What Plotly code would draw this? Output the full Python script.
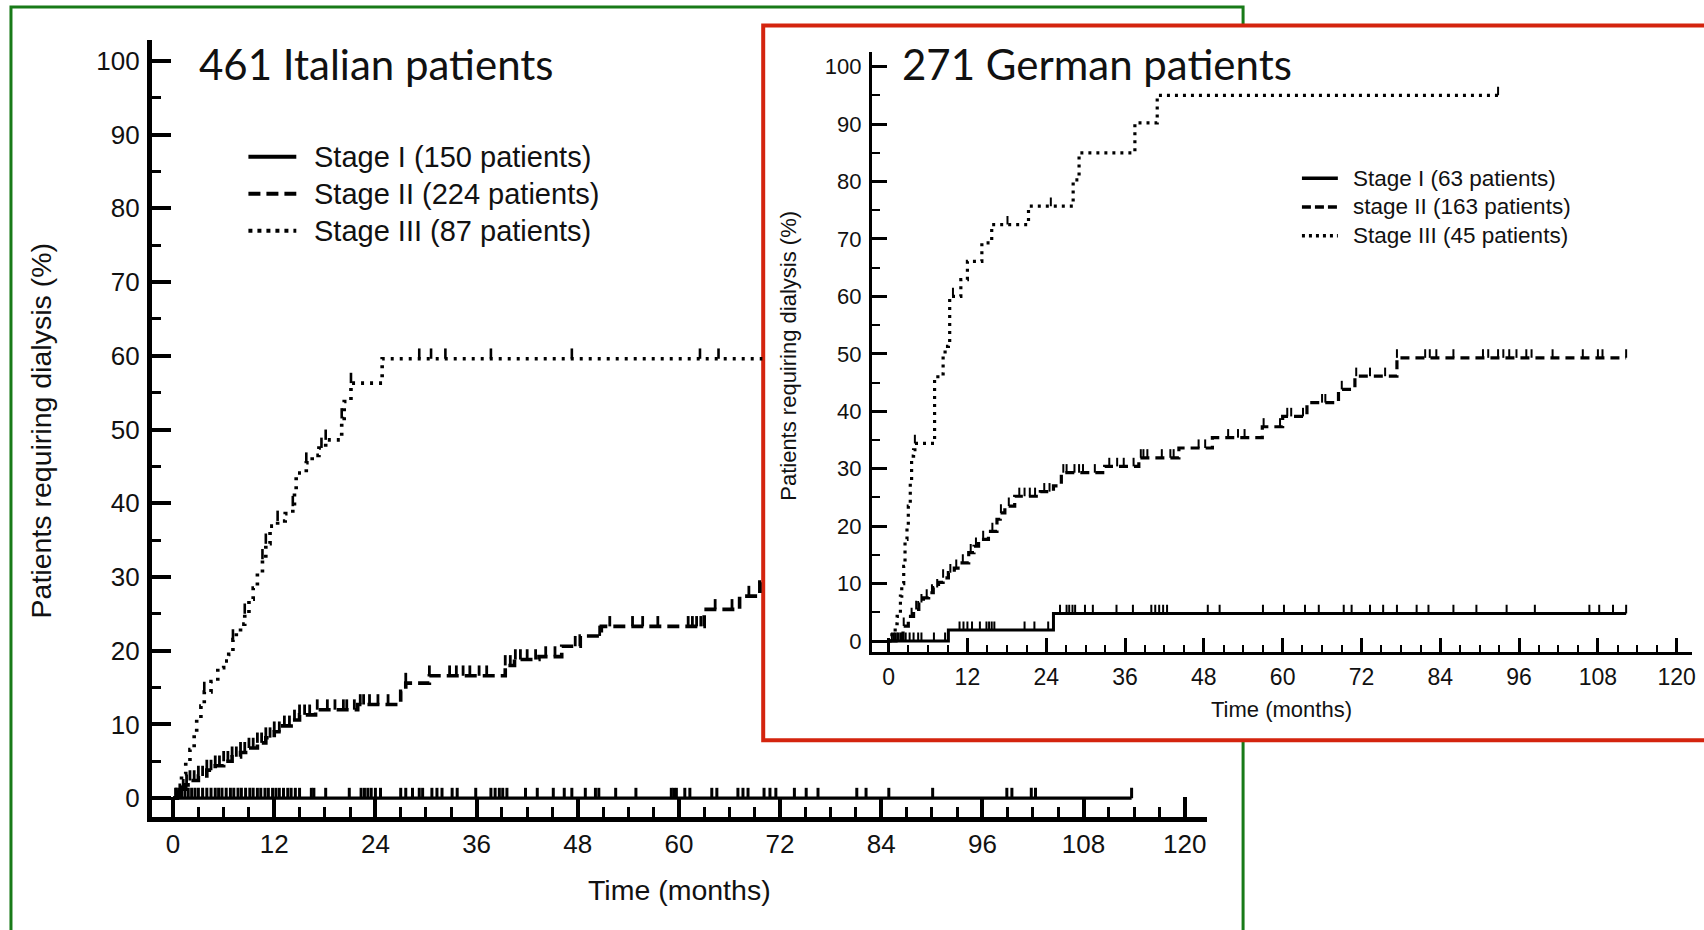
import numpy as np
import plotly.graph_objects as go

W, H = 1704, 930

MONTH_TICKS = list(range(0, 121, 12))
PCT_TICKS = list(range(0, 101, 10))

# ---------------- Italian cohort (461 patients) ----------------
it_s1_t = [0.0]
it_s1_v = [0.0]
it_s1_end = 113.7
it_s1_cens = [0.3, 0.7, 1.0, 1.4, 1.8, 2.2, 2.6, 3.0, 3.5, 4.0, 4.5, 5.0, 5.4, 5.8, 6.3, 6.8,
              7.2, 7.7, 8.1, 8.6, 9.1, 9.5, 10.0, 10.4, 10.9, 11.3, 11.8, 12.2, 12.6, 13.1,
              13.6, 14.0, 14.5, 15.0, 16.4, 16.7, 18.1, 20.9, 22.3, 22.7, 23.1, 23.5, 24.0,
              24.6, 27.0, 27.6, 28.4, 29.2, 29.6, 30.7, 31.3, 31.9, 33.1, 33.7, 35.9, 37.7,
              38.2, 38.7, 39.1, 39.6, 41.8, 43.2, 45.1, 46.4, 47.3, 48.9, 50.1, 50.5, 52.5,
              54.9, 59.1, 59.4, 59.7, 60.7, 61.3, 63.9, 64.5, 67.0, 67.6, 68.2, 70.1, 70.8,
              71.5, 73.7, 75.1, 76.5, 81.1, 82.2, 84.9, 90.1, 98.9, 99.5, 101.8, 102.3, 113.7]

it_s2_t = [0, 0.5, 1.0, 1.5, 2.0, 3.0, 4.0, 5.0, 6.0, 7.0, 8.0, 9.0, 10.0, 11.0, 12.0, 13.0,
           14.0, 15.0, 16.9, 21.9, 27.0, 27.6, 30.4, 39.4, 40.5, 43.4, 46.1, 48.3, 50.8, 63.0,
           67.2, 69.6]
it_s2_v = [0, 0.6, 1.2, 1.8, 2.4, 3.0, 3.8, 4.4, 5.0, 5.6, 6.2, 6.8, 7.5, 8.2, 9.0, 9.8,
           10.6, 11.3, 12.0, 12.7, 14.5, 15.6, 16.6, 18.0, 18.8, 19.2, 20.6, 22.0, 23.3, 25.6,
           27.4, 29.3]
it_s2_end = 69.9
it_s2_cens = [0.4, 0.8, 1.2, 1.6, 2.0, 2.5, 3.0, 3.5, 4.0, 4.5, 5.0, 5.5, 6.0, 6.5, 7.0, 7.5,
              8.0, 8.5, 9.0, 9.5, 10.0, 10.5, 11.0, 11.5, 12.0, 12.6, 13.2, 13.8, 14.4, 15.0,
              15.6, 16.2, 17.1, 18.3, 19.2, 20.2, 20.6, 21.5, 22.2, 22.6, 23.3, 24.3, 25.5,
              27.6, 30.4, 32.8, 33.6, 34.4, 35.2, 36.3, 37.2, 39.4, 40.0, 40.6, 41.2, 42.0,
              43.0, 44.2, 45.3, 47.7, 50.6, 51.8, 54.5, 55.7, 57.5, 61.1, 61.6, 62.1, 62.6,
              64.3, 66.3, 68.3]

it_s3_t = [0, 0.5, 1.0, 1.5, 2.0, 2.5, 2.8, 3.3, 3.7, 4.5, 5.3, 6.0, 6.6, 7.1, 7.5, 8.0, 8.5,
           9.0, 9.5, 10.0, 10.6, 11.0, 11.5, 12.4, 13.3, 14.2, 14.4, 14.6, 15.8, 16.5, 17.3,
           18.1, 20.0, 20.3, 21.1, 24.8]
it_s3_v = [0, 1.5, 3.3, 5.0, 6.6, 8.7, 10.7, 12.5, 14.4, 15.8, 17.7, 18.6, 19.5, 21.5, 22.5,
           23.6, 25.0, 27.0, 28.5, 30.6, 32.4, 34.5, 36.9, 37.6, 38.6, 39.6, 41.5, 44.1, 45.5,
           46.5, 47.5, 48.6, 51.5, 53.8, 56.3, 59.6]
it_s3_end = 69.9
it_s3_cens = [3.7, 7.1, 8.5, 10.6, 11.0, 12.4, 14.2, 15.8, 17.6, 18.1, 20.0, 21.1, 29.2, 30.6,
              32.3, 37.7, 47.3, 62.5, 64.7]

# ---------------- German cohort (271 patients) ----------------
de_s1_t = [0, 9.1, 25.1]
de_s1_v = [0, 1.9, 4.8]
de_s1_end = 112.3
de_s1_cens = [0.5, 1.0, 1.5, 2.0, 2.6, 3.2, 3.8, 4.5, 5.0, 6.9, 8.6, 10.8, 11.4, 12.0, 12.7,
              13.9, 14.9, 15.3, 15.7, 16.1, 20.7, 22.2, 24.3, 26.1, 27.1, 27.5, 28.0, 28.4,
              29.9, 31.1, 34.7, 37.2, 40.0, 40.6, 41.2, 41.8, 42.4, 48.6, 50.4, 57.0, 60.2,
              63.4, 65.5, 69.3, 70.5, 73.3, 75.3, 77.4, 80.4, 82.2, 86.0, 89.5, 94.1, 98.4,
              106.7, 108.2, 110.3, 112.3]

de_s2_t = [0, 2.2, 3.0, 3.8, 4.6, 5.3, 6.1, 6.8, 7.6, 8.3, 9.1, 10.0, 10.9, 12.2, 13.0, 13.7,
           15.2, 16.5, 17.0, 17.7, 19.2, 23.1, 25.1, 26.3, 32.9, 38.1, 44.2, 49.3, 56.9, 60.0,
           63.7, 68.5, 71.0, 77.4]
de_s2_v = [0, 2.6, 4.3, 5.5, 6.7, 7.5, 8.4, 9.3, 10.2, 11.0, 11.9, 12.7, 13.6, 15.4, 16.5,
           17.7, 19.1, 21.2, 22.3, 23.5, 25.2, 26.0, 27.0, 29.3, 30.4, 31.9, 33.6, 35.4, 37.3,
           39.1, 41.5, 43.8, 46.1, 49.3]
de_s2_end = 112.3
de_s2_cens = [0.8, 1.3, 1.8, 2.3, 3.5, 4.2, 5.0, 5.8, 6.6, 7.4, 8.3, 9.4, 10.3, 11.3, 12.5,
              13.3, 14.4, 15.8, 17.1, 18.3, 19.9, 20.7, 21.5, 22.3, 23.7, 24.5, 26.6, 27.1,
              28.3, 29.0, 29.6, 31.4, 33.6, 34.8, 35.8, 37.3, 38.4, 38.8, 39.4, 41.6, 42.9,
              43.4, 47.2, 48.2, 51.7, 53.2, 54.2, 57.1, 59.6, 60.7, 61.3, 63.1, 66.0, 66.5,
              69.0, 71.2, 73.3, 75.6, 77.4, 81.7, 82.4, 83.4, 86.0, 90.5, 91.3, 92.8, 93.6,
              94.5, 95.6, 97.1, 97.9, 101.1, 105.7, 108.0, 108.7, 112.3]

de_s3_t = [0, 0.5, 1.0, 1.3, 1.8, 2.0, 2.3, 2.5, 2.8, 3.0, 3.3, 3.5, 3.8, 4.0, 7.0, 7.5, 8.3,
           8.6, 9.1, 9.3, 11.0, 12.0, 14.2, 15.7, 21.3, 28.1, 29.0, 37.5, 40.9]
de_s3_v = [0, 1.5, 3.0, 4.3, 7.8, 10.0, 13.0, 17.7, 20.0, 23.5, 28.0, 32.2, 33.3, 34.4, 45.5,
           46.5, 49.6, 51.3, 51.9, 60.0, 62.9, 66.1, 69.3, 72.5, 75.7, 80.3, 85.0, 90.2, 95.0]
de_s3_end = 92.8
de_s3_cens = [4.0, 9.8, 18.1, 24.7, 92.8]

# ---------------- layout helpers ----------------
FONT = "Liberation Sans, Arial, sans-serif"
TITLE_FONT = "Lato, Open Sans, sans-serif"


def px(x):
    return x / W


def py(y):
    return 1 - y / H


def step_xy(t, v, end):
    return list(t) + [end], list(v) + [v[-1]]


def censor_xy(times, t, v, h):
    xs, ys = [], []
    for c in times:
        i = max(int(np.searchsorted(t, c, side="right")) - 1, 0)
        xs += [c, c, None]
        ys += [v[i], v[i] + h, None]
    return xs, ys


fig = go.Figure()

series = [
    # (t, v, end, cens, dash, xaxis, yaxis, width, tickh, tickw)
    (it_s1_t, it_s1_v, it_s1_end, it_s1_cens, "solid", "x", "y", 3.2, 1.4, 3.0),
    (it_s2_t, it_s2_v, it_s2_end, it_s2_cens, "12px,6px", "x", "y", 3.6, 1.4, 2.8),
    (it_s3_t, it_s3_v, it_s3_end, it_s3_cens, "3px,6px", "x", "y", 3.6, 1.4, 2.6),
    (de_s1_t, de_s1_v, de_s1_end, de_s1_cens, "solid", "x2", "y2", 3.0, 1.5, 2.0),
    (de_s2_t, de_s2_v, de_s2_end, de_s2_cens, "9px,6px", "x2", "y2", 3.2, 1.5, 2.0),
    (de_s3_t, de_s3_v, de_s3_end, de_s3_cens, "3px,5px", "x2", "y2", 3.2, 1.5, 2.0),
]
for t, v, end, cens, dash, xa, ya, lw, th, tw in series:
    sx, sy = step_xy(t, v, end)
    fig.add_trace(go.Scatter(x=sx, y=sy, mode="lines", line=dict(color="black", width=lw, dash=dash, shape="hv"),
                             xaxis=xa, yaxis=ya, showlegend=False, hoverinfo="skip"))
    cx, cy = censor_xy(cens, t, v, th)
    fig.add_trace(go.Scatter(x=cx, y=cy, mode="lines", line=dict(color="black", width=tw),
                             xaxis=xa, yaxis=ya, showlegend=False, hoverinfo="skip"))


def axis(domain, rng, tickvals, minor_dtick, lw, tl, tw, mtl, mtw, fsize, standoff):
    return dict(domain=domain, range=rng, showline=True, linecolor="black", linewidth=lw,
                ticks="inside", ticklen=tl, tickwidth=tw, tickcolor="black",
                tickmode="array", tickvals=tickvals, ticktext=[str(k) for k in tickvals],
                minor=dict(ticks="inside", dtick=minor_dtick, tick0=0, ticklen=mtl, tickwidth=mtw,
                           tickcolor="black", showgrid=False),
                showgrid=False, zeroline=False, fixedrange=True,
                tickfont=dict(family=FONT, size=fsize, color="#111"),
                ticklabelstandoff=standoff)


# left panel: x pixels 152..1210, 0 month at 173.5, 8.45 px / month ; y 40..818, 0% at 799, 7.38 px / %
xa1 = axis([px(152), px(1210)], [(152 - 173.5) / 8.45, (1210 - 173.5) / 8.45], MONTH_TICKS, 3,
           4.5, 20, 4, 10, 2.8, 26, 0)
ya1 = axis([py(818), py(40)], [(799 - 818) / 7.38, (799 - 40) / 7.38], PCT_TICKS, 5,
           4.5, 20, 4, 10, 2.8, 26, 2)
# right panel: x pixels 874..1696, 0 month at 890.7, 6.583 px / month ; y 52..653, 0% at 641.7, 5.75 px / %
xa2 = axis([px(874), px(1696)], [(874 - 890.7) / 6.583, (1696 - 890.7) / 6.583], MONTH_TICKS, 3,
           3.2, 14, 3, 7, 2, 23, 2)
ya2 = axis([py(653), py(52)], [(641.7 - 653) / 5.75, (641.7 - 52) / 5.75], PCT_TICKS, 5,
           3.2, 15, 3, 8, 2, 22, 3)
xa2["anchor"] = "y2"
ya2["anchor"] = "x2"
xa1["anchor"] = "y"
ya1["anchor"] = "x"

shapes = []
# green frame of left panel (right edge hidden behind the red frame)
shapes.append(dict(type="path", xref="paper", yref="paper", layer="below",
                   path=f"M {px(11)} {py(960)} L {px(11)} {py(7)} L {px(1246)} {py(7)} L {px(1246)} {py(30)} "
                        f"M {px(1246)} {py(738)} L {px(1246)} {py(960)}",
                   line=dict(color="rgb(24,122,24)", width=3)))
# red frame of right panel
shapes.append(dict(type="rect", xref="paper", yref="paper", layer="below",
                   x0=px(765), x1=px(1730), y0=py(741), y1=py(25.5),
                   fillcolor="white", line=dict(color="rgb(212,36,14)", width=4)))

annotations = []


def text(x, y, s, size, family=FONT, xanchor="left", angle=0):
    annotations.append(dict(x=px(x), y=py(y), xref="paper", yref="paper", text=s, showarrow=False,
                            xanchor=xanchor, yanchor="middle", textangle=angle,
                            font=dict(family=family, size=size, color="#111")))


# titles
text(197, 64, "461 Italian patients", 42, TITLE_FONT)
text(902, 64, "271 German patients", 42, TITLE_FONT)
# axis titles
text(681, 891, "Time (months)", 28.5, xanchor="center")
text(41, 431, "Patients requiring dialysis (%)", 28.5, xanchor="center", angle=-90)
text(1285, 710, "Time (months)", 22, xanchor="center")
text(790, 356, "Patients requiring dialysis (%)", 22, xanchor="center", angle=-90)

# legends
leg_left = ["Stage I (150 patients)", "Stage II (224 patients)", "Stage III (87 patients)"]
leg_right = ["Stage I (63 patients)", "stage II (163 patients)", "Stage III (45 patients)"]
leg_dash_left = ["solid", "12px,6px", "4px,5px"]
leg_dash_right = ["solid", "9px,4px", "3px,4px"]
for i, (lab, d) in enumerate(zip(leg_left, leg_dash_left)):
    yy = 157 + 37 * i
    shapes.append(dict(type="line", xref="paper", yref="paper", layer="above",
                       x0=px(249), x1=px(297), y0=py(yy), y1=py(yy),
                       line=dict(color="black", width=4, dash=d)))
    text(313, yy, lab, 29)
for i, (lab, d) in enumerate(zip(leg_right, leg_dash_right)):
    yy = 178.5 + 28.7 * i
    shapes.append(dict(type="line", xref="paper", yref="paper", layer="above",
                       x0=px(1305), x1=px(1341), y0=py(yy), y1=py(yy),
                       line=dict(color="black", width=3.5, dash=d)))
    text(1354, yy, lab, 22.5)

fig.update_layout(width=W, height=H, margin=dict(l=0, r=0, t=0, b=0),
                  paper_bgcolor="white", plot_bgcolor="rgba(0,0,0,0)",
                  xaxis=xa1, yaxis=ya1, xaxis2=xa2, yaxis2=ya2,
                  shapes=shapes, annotations=annotations, showlegend=False,
                  font=dict(family=FONT, color="#111"))

fig.write_html("out.html")
